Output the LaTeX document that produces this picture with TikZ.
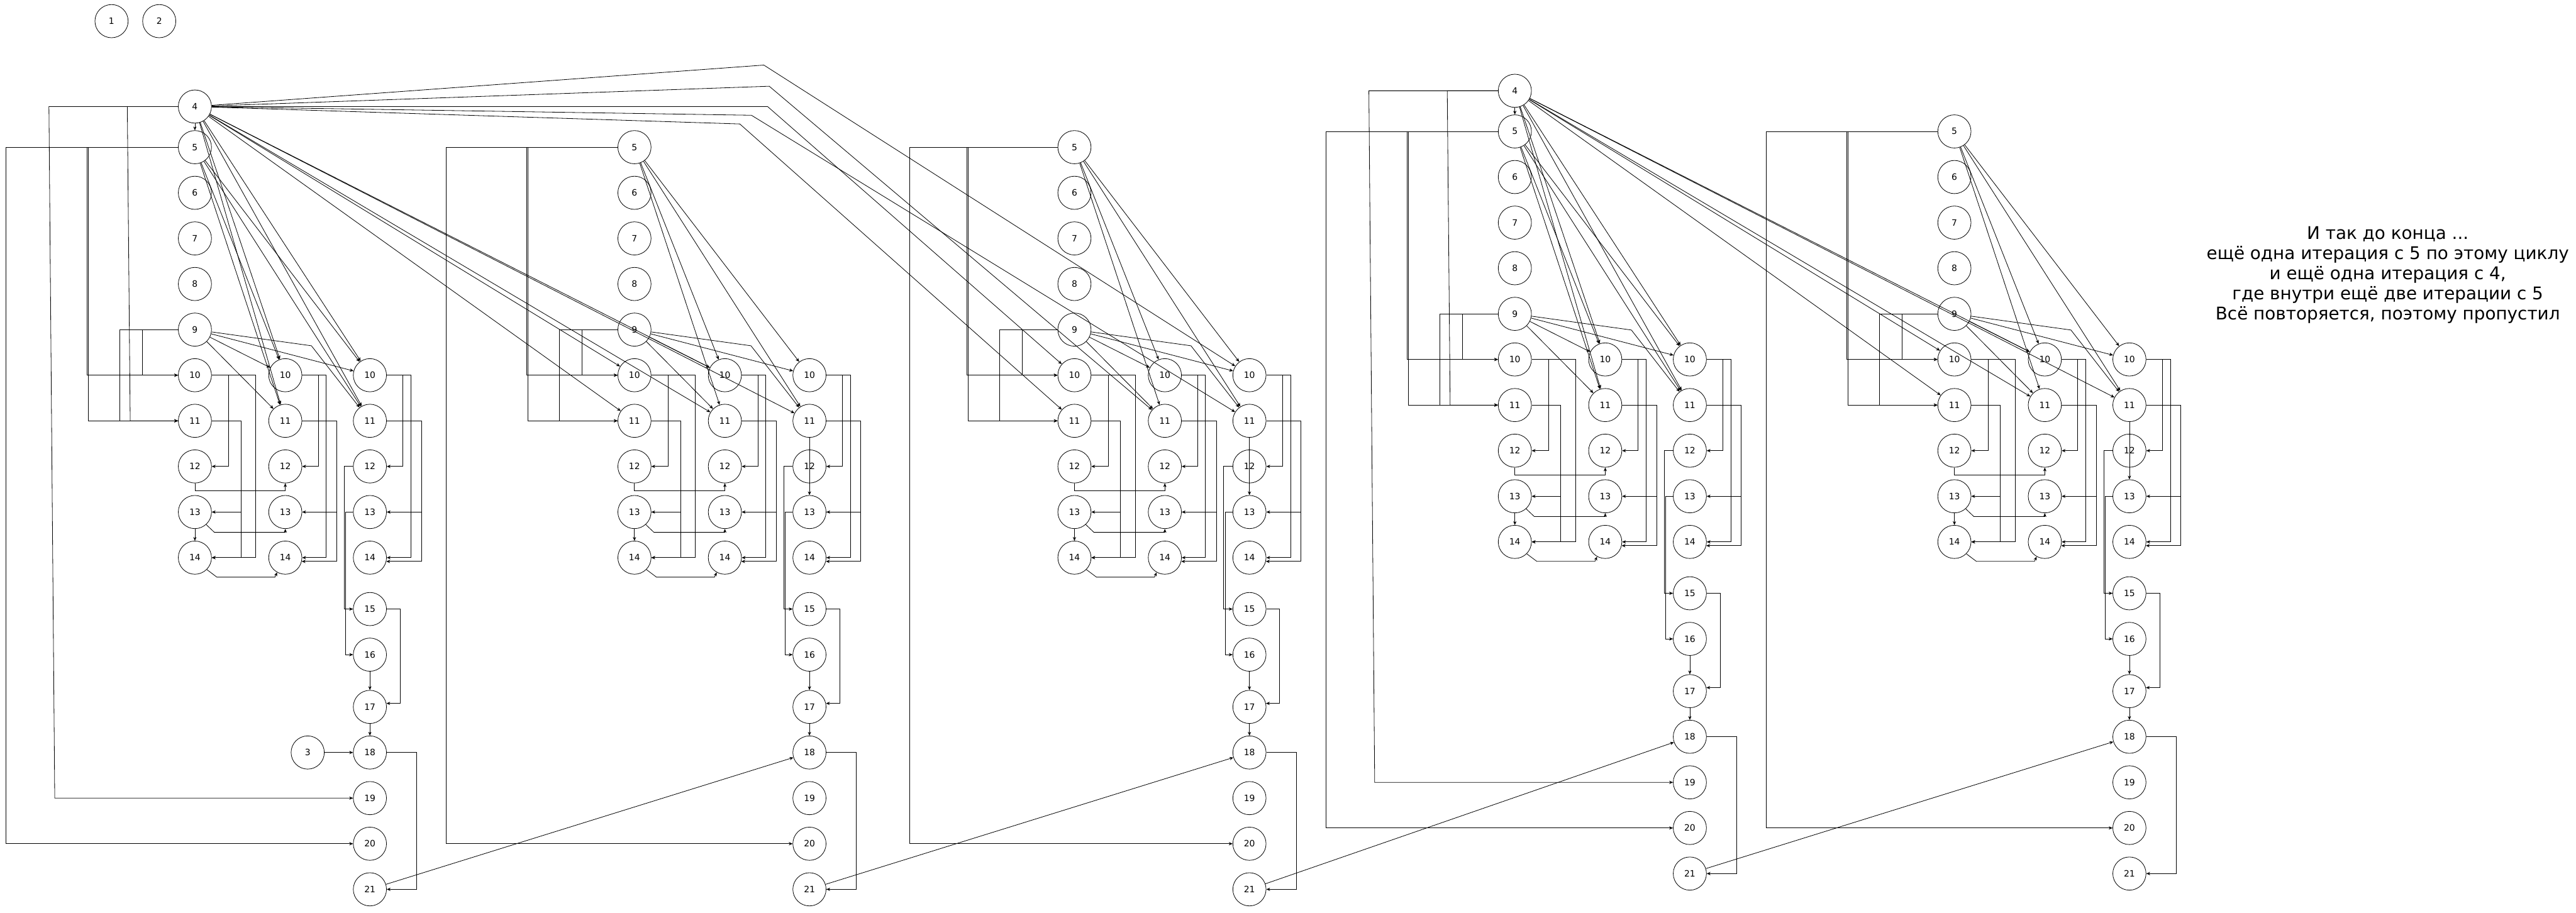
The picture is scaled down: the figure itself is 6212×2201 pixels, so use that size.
\documentclass[tikz,border=0pt]{standalone}
\usepackage{fontspec}
\setmainfont{DejaVu Sans}
\usetikzlibrary{arrows.meta}
\tikzset{
  nd/.style={circle,draw,line width=0.35pt,minimum size=0.8cm,inner sep=0pt,font=\fontsize{6}{7}\selectfont},
  arr/.style={line width=0.35pt,-{Stealth[length=2.6pt,width=2.2pt,inset=0.8pt]}},
  note/.style={align=center,font=\fontsize{12}{13.8}\selectfont}
}
\newcommand{\GroupNodes}[1]{%
  \node[nd] (#1-5) at (470,355) {5};
  \node[nd] (#1-6) at (470,465) {6};
  \node[nd] (#1-7) at (470,575) {7};
  \node[nd] (#1-8) at (470,685) {8};
  \node[nd] (#1-9) at (470,795) {9};
  \foreach \n/\y in {10/905,11/1015,12/1125,13/1235,14/1345}{
    \node[nd] (#1-A\n) at (470,\y) {\n};
    \node[nd] (#1-B\n) at (688,\y) {\n};
    \node[nd] (#1-C\n) at (892,\y) {\n};}
  \foreach \n/\y in {15/1469,16/1579,17/1705,18/1815,19/1925,20/2035,21/2145}{
    \node[nd] (#1-C\n) at (892,\y) {\n};}
}
\newcommand{\GroupEdges}[2]{%
  \draw[arr] (#1-5.west) -- (#2,355) -- (#2,2035) -- (#1-C20.west);
  \draw[arr] (#1-5.west) -- (210,355) -- (210,905) -- (#1-A10.west);
  \draw[arr] (#1-5.west) -- (213,355) -- (213,1015) -- (#1-A11.west);
  \draw[arr] (#1-9.west) -- (344,795) -- (344,905) -- (#1-A10.west);
  \draw[arr] (#1-9.west) -- (289,795) -- (289,1015) -- (#1-A11.west);
  \foreach \t in {B10,B11,C10,C11}{\draw[arr] (#1-5) -- (#1-\t);}
  \foreach \t in {B10,B11,C10}{\draw[arr] (#1-9) -- (#1-\t);}
  \draw[arr] (#1-9) -- (751,834) -- (#1-C11);
  \draw[arr] (#1-A10.east) -- (551.5,905) |- (#1-A12.east);
  \draw[arr] (#1-A10.east) -- (617,905) |- (#1-A14.east);
  \draw[arr] (#1-A11.east) -- (581,1015) |- (#1-A13.east);
  \draw[arr] (#1-A11.east) -- (581,1015) |- (#1-A14.east);
  \draw[arr] (#1-A12.south) -- (470,1183) -| (#1-B12.south);
  \draw[arr] (#1-A13.-48) -- (517,1284) -| (#1-B13.south);
  \draw[arr] (#1-A13) -- (#1-A14);
  \draw[arr] (#1-A14.-45) -- (523,1392) -- (663,1392) -- (#1-B14.-119);
  \draw[arr] (#1-B10.east) -- (767.5,905) |- (#1-B12.east);
  \draw[arr] (#1-B10.east) -- (786,905) |- (#1-B14.east);
  \draw[arr] (#1-B11.east) -- (812,1015) |- (#1-B13.east);
  \draw[arr] (#1-B11.east) -- (812,1015) |- (#1-B14.-13);
  \draw[arr] (#1-C10.east) -- (971.5,905) |- (#1-C12.east);
  \draw[arr] (#1-C10.east) -- (991,905) |- (#1-C14.east);
  \draw[arr] (#1-C11.east) -- (1016,1015) |- (#1-C13.east);
  \draw[arr] (#1-C11.east) -- (1016,1015) |- (#1-C14.-13);
  \draw[arr] (#1-C12.west) -- (830,1125) |- (#1-C15.west);
  \draw[arr] (#1-C13.west) -- (833.5,1235) |- (#1-C16.west);
  \draw[arr] (#1-C15.east) -- (965,1469) |- (#1-C17.12);
  \draw[arr] (#1-C16) -- (#1-C17);
  \draw[arr] (#1-C17) -- (#1-C18);
  \draw[arr] (#1-C18.east) -- (1005,1815) |- (#1-C21.east);
}
\newcommand{\LayoutOne}[3]{%
  \begin{scope}[shift={(#2,#3)}]
  \node[nd] (#1-4) at (470,257) {4};
  \GroupNodes{#1}
  \GroupEdges{#1}{15}
  \draw[arr] (#1-4) -- (#1-5);
  \draw[arr] (#1-4.west) -- (118,257) -- (132,1925) -- (#1-C19.west);
  \draw[arr] (#1-4.west) -- (307,257) -- (314,1015) -- (#1-A11.west);
  \foreach \t in {B10,B11,C10,C11}{\draw[arr] (#1-4) -- (#1-\t);}
  \end{scope}}
\newcommand{\LayoutTwo}[4]{%
  \begin{scope}[shift={(#2,#3)}]
  \GroupNodes{#1}
  \GroupEdges{#1}{#4}
  \draw[arr] (#1-C11) -- (#1-C13);
  \end{scope}}
\begin{document}
\begin{tikzpicture}[x=0.01cm,y=-0.01cm]
\fill[white] (0,0) rectangle (6212,2201);
\useasboundingbox (0,0) rectangle (6212,2201);
\node[nd] (n1) at (269,51) {1};
\node[nd] (n2) at (384,51) {2};
\LayoutOne{g1}{0}{0}
\node[nd] (g1-3) at (742,1815) {3};
\draw[arr] (g1-3) -- (g1-C18);
\LayoutTwo{g2}{1060}{0}{16}
\LayoutTwo{g3}{2121}{0}{72}
\LayoutOne{g4}{3183}{-38}
\LayoutTwo{g5}{4243}{-38}{16}
\foreach \t in {A10,A11,B10,B11,C11}{
  \draw[arr] (g1-4) -- (g2-\t);
  \draw[arr] (g4-4) -- (g5-\t);}
\draw[arr] (g1-4) -- (1842,157) -- (g3-C10);
\draw[arr] (g1-4) -- (1855,208) -- (g3-B11);
\draw[arr] (g1-4.east) -- (1851,257) -- (g3-A10);
\draw[arr] (g1-4) -- (1812,278) -- (g3-C11);
\draw[arr] (g1-4) -- (1784,299) -- (g3-A11);
\draw[arr] (g1-C21) -- (g2-C18);
\draw[arr] (g2-C21) -- (g3-C18);
\draw[arr] (g3-C21) -- (g4-C18);
\draw[arr] (g4-C21) -- (g5-C18);
\node[note] (txt) at (5758,663) {И так до конца ...\\ещё одна итерация с 5 по этому циклу\\и ещё одна итерация с 4,\\где внутри ещё две итерации с 5\\Всё повторяется, поэтому пропустил};
\end{tikzpicture}
\end{document}
